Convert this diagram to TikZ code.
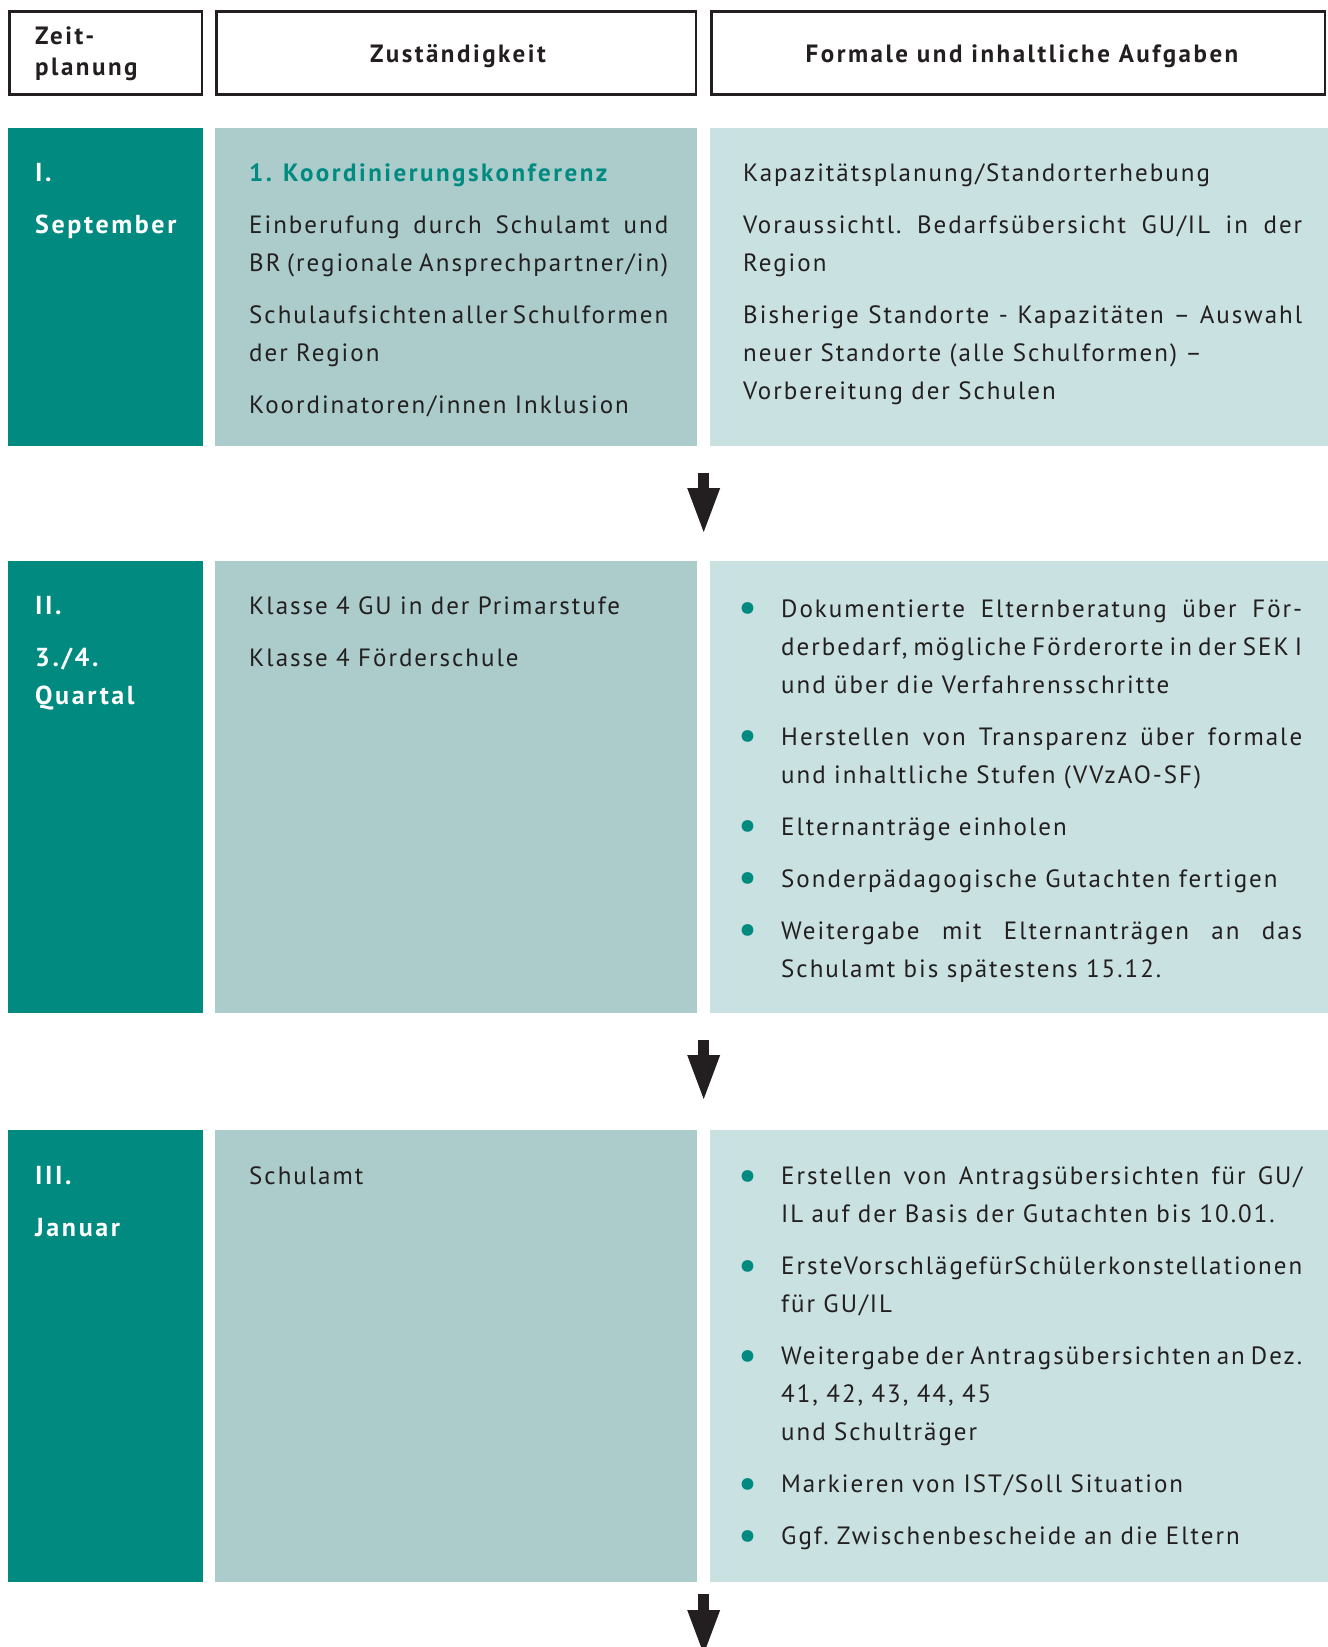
\documentclass[tikz,border=0pt]{standalone}
\usepackage{fontspec}
\setmainfont{PT Sans}[LetterSpace=8,BoldFeatures={LetterSpace=10}]
\usetikzlibrary{arrows.meta}
\definecolor{darkteal}{HTML}{008A80}
\definecolor{midteal}{HTML}{ABCCCB}
\definecolor{lightteal}{HTML}{C9E1E1}
\definecolor{inkgray}{HTML}{231F20}
\frenchspacing
% justified line and hanging bullet
\newcommand{\jl}[1]{\makebox[\linewidth][s]{\spaceskip=\fontdimen2\font plus 1fil minus \fontdimen2\font\relax #1}}
\newcommand{\bl}{\leavevmode\llap{\makebox[0pt]{\raisebox{-4.5pt}{\fontsize{42}{42}\selectfont\textcolor{darkteal}{\textbullet}}}\hspace{33pt}}}
\begin{document}
\begin{tikzpicture}[x=1pt,y=-1pt,
    hdbox/.style={draw=inkgray,line width=2.5pt,anchor=north west,inner sep=0pt,outer sep=0pt},
    cell/.style={anchor=north west,inner sep=0pt,outer sep=0pt},
    hdtext/.style={anchor=base,inner sep=0pt,text=inkgray,font=\bfseries\fontsize{25}{31}\selectfont},
    when/.style={anchor=base west,inner sep=0pt,text=white,text width=160pt,font=\bfseries\fontsize{26}{38}\selectfont},
    who/.style={anchor=base west,inner sep=0pt,text=inkgray,text width=419pt,font=\fontsize{25}{38}\selectfont},
    what/.style={anchor=base west,inner sep=0pt,text=inkgray,text width=#1,font=\fontsize{25}{38}\selectfont},
    flow/.style={line width=11pt,draw=inkgray,-{Triangle[width=33pt,length=44pt,line width=0pt,fill=inkgray]}}
  ]
  \useasboundingbox (0,0) rectangle (1328,1647);

  % header
  \node[hdbox,minimum width=192.5pt,minimum height=83pt] (head1) at (9.25,11.25) {};
  \node[hdbox,minimum width=479.5pt,minimum height=83pt] (head2) at (216.25,11.25) {};
  \node[hdbox,minimum width=613.5pt,minimum height=83pt] (head3) at (711.25,11.25) {};
  \node[hdtext,anchor=base west,text width=160pt] (headtxt1) at (35,44) {Zeit-\\planung};
  \node[hdtext] (headtxt2) at (458,62) {Zuständigkeit};
  \node[hdtext] (headtxt3) at (1022,62) {Formale und inhaltliche Aufgaben};

  % cells
  \foreach \r/\top/\ht in {1/128/318, 2/561/452, 3/1130/452} {
    \node[cell,fill=darkteal,minimum width=194.6pt,minimum height=\ht pt] (when\r) at (8.4,\top) {};
    \node[cell,fill=midteal,minimum width=482pt,minimum height=\ht pt] (who\r) at (215,\top) {};
    \node[cell,fill=lightteal,minimum width=618pt,minimum height=\ht pt] (what\r) at (710,\top) {};
  }

  % row I
  \node[when] (whentxt1) at (35,181) {I.\\[14pt]September};
  \node[who] (whotxt1) at (249,181) {{\color{darkteal}\bfseries\makebox[34pt][l]{1.}Koordinierungskonferenz}\\[14pt]
    \jl{Einberufung durch Schulamt und}\\
    \jl{BR (regionale Ansprechpartner/in)}\\[14pt]
    \jl{Schulaufsichten aller Schulformen}\\
    der Region\\[14pt]
    Koordinatoren/innen Inklusion};
  \node[what=559pt] (whattxt1) at (743,181) {Kapazitätsplanung/Standorterhebung\\[14pt]
    \jl{Voraussichtl. Bedarfsübersicht GU/IL in der}\\
    Region\\[14pt]
    \jl{Bisherige Standorte - Kapazitäten – Auswahl}\\
    neuer Standorte (alle Schulformen) –\\
    Vorbereitung der Schulen};

  % row II
  \node[when] (whentxt2) at (35,614) {II.\\[14pt]3./4.\\Quartal};
  \node[who] (whotxt2) at (249,614) {Klasse 4 GU in der Primarstufe\\[14pt]
    Klasse 4 Förderschule};
  \node[what=521pt] (whattxt2) at (781,617) {\bl\jl{Dokumentierte Elternberatung über För-}\\
    \jl{derbedarf, mögliche Förderorte in der SEK I}\\
    und über die Verfahrensschritte\\[14pt]
    \bl\jl{Herstellen von Transparenz über formale}\\
    und inhaltliche Stufen (VVzAO-SF)\\[14pt]
    \bl Elternanträge einholen\\[14pt]
    \bl Sonderpädagogische Gutachten fertigen\\[14pt]
    \bl\jl{Weitergabe mit Elternanträgen an das}\\
    Schulamt bis spätestens 15.12.};

  % row III
  \node[when] (whentxt3) at (35,1184.6) {III.\\[14pt]Januar};
  \node[who] (whotxt3) at (249,1184.6) {Schulamt};
  \node[what=521pt] (whattxt3) at (781,1184.6) {\bl\jl{Erstellen von Antragsübersichten für GU/}\\
    IL auf der Basis der Gutachten bis 10.01.\\[14pt]
    \bl\jl{Erste Vorschläge für Schülerkonstellationen}\\
    für GU/IL\\[14pt]
    \bl\jl{Weitergabe der Antragsübersichten an Dez.}\\
    41, 42, 43, 44, 45\\
    und Schulträger\\[14pt]
    \bl Markieren von IST/Soll Situation\\[14pt]
    \bl Ggf. Zwischenbescheide an die Eltern};

  % arrows between the steps
  \coordinate (flow1a) at (703.7,473);
  \coordinate (flow1b) at (703.7,532);
  \coordinate (flow2a) at (703.7,1040);
  \coordinate (flow2b) at (703.7,1099);
  \coordinate (flow3a) at (703.7,1594);
  \coordinate (flow3b) at (703.7,1654);
  \draw[flow] (flow1a) -- (flow1b);
  \draw[flow] (flow2a) -- (flow2b);
  \draw[flow] (flow3a) -- (flow3b);
\end{tikzpicture}
\end{document}
